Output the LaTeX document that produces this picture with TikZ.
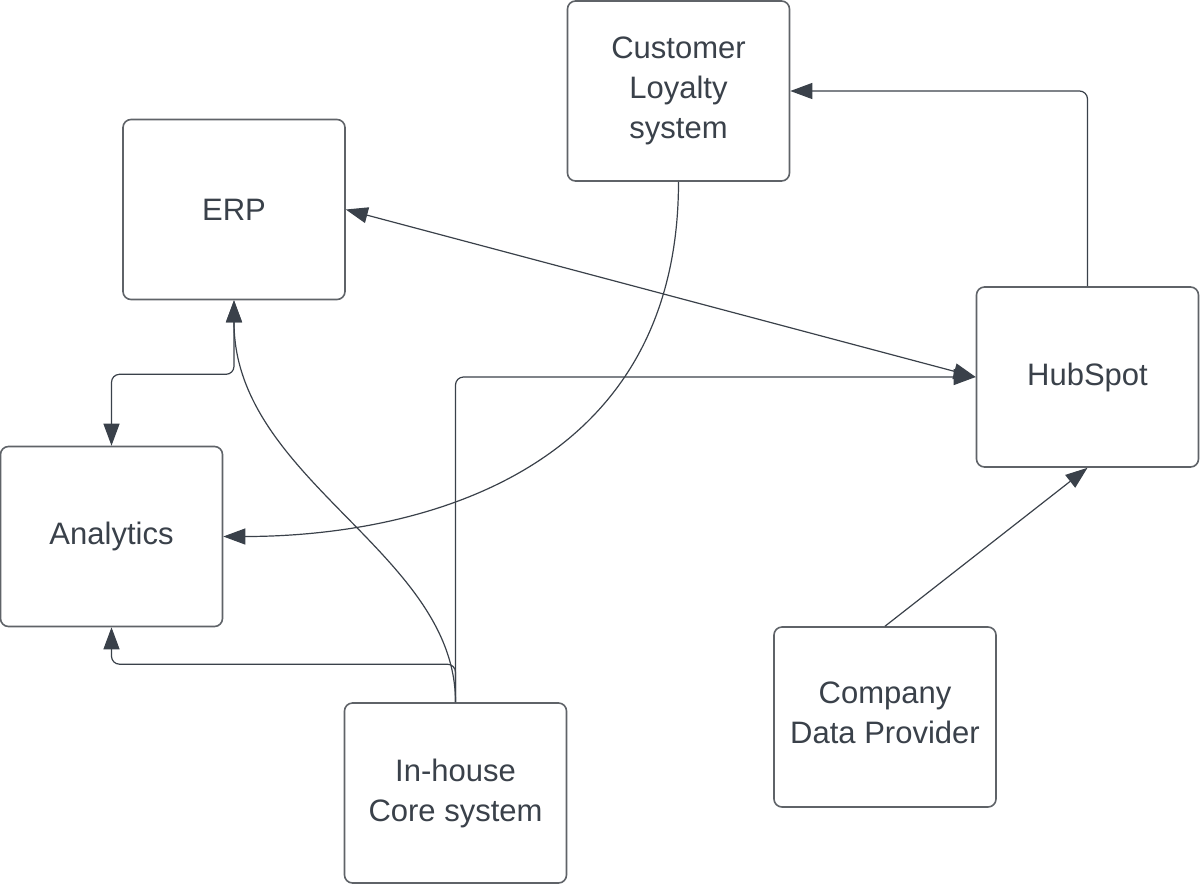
\documentclass[tikz,border=0pt]{standalone}
\usepackage{fontspec}
\setmainfont{Liberation Sans}
\usetikzlibrary{arrows.meta}
\definecolor{boxline}{HTML}{5F6368}
\definecolor{ink}{HTML}{3A414A}
\tikzset{
  sysbox/.style={draw=boxline, line width=0.8pt, rounded corners=4pt, fill=white,
    minimum width=111pt, minimum height=90pt, inner sep=2pt, align=center,
    text=ink, font=\fontsize{15.5}{20}\selectfont},
  conn/.style={draw=ink, line width=0.6pt, rounded corners=4pt},
  tip/.style={-{Triangle[length=11pt,width=8pt]}},
  bitip/.style={{Triangle[length=11pt,width=8pt]}-{Triangle[length=11pt,width=8pt]}},
}
\begin{document}
\begin{tikzpicture}[x=0.5pt,y=-0.5pt]
\useasboundingbox (0,0) rectangle (1200,885);
\node[sysbox] (loyal) at (678.5,91) {Customer\\Loyalty\\system};
\node[sysbox] (erp) at (234,209.5) {ERP};
\node[sysbox] (hub) at (1087.5,377) {HubSpot};
\node[sysbox] (ana) at (111.5,536.5) {Analytics};
\node[sysbox] (core) at (455.5,793) {In-house\\Core system};
\node[sysbox, text depth=4pt] (cdp) at (885,717) {Company\\Data Provider};

\draw[conn,tip] (hub.north) |- (loyal.east);
\draw[conn,bitip] (erp.east) -- (hub.west);
\draw[conn,tip] (loyal.south) .. controls +(0,300) and +(180,0) .. (ana.east);
\draw[conn,bitip] (erp.south) -- ++(0,74) -| (ana.north);
\draw[conn,tip] (core.north) .. controls +(0,-150) and +(0,180) .. (erp.south);
\draw[conn,tip] (core.north) |- (hub.west);
\draw[conn,tip] (core.north) -- ++(0,-38) -| (ana.south);
\draw[conn,tip] (cdp.north) -- (hub.south);
\end{tikzpicture}
\end{document}
